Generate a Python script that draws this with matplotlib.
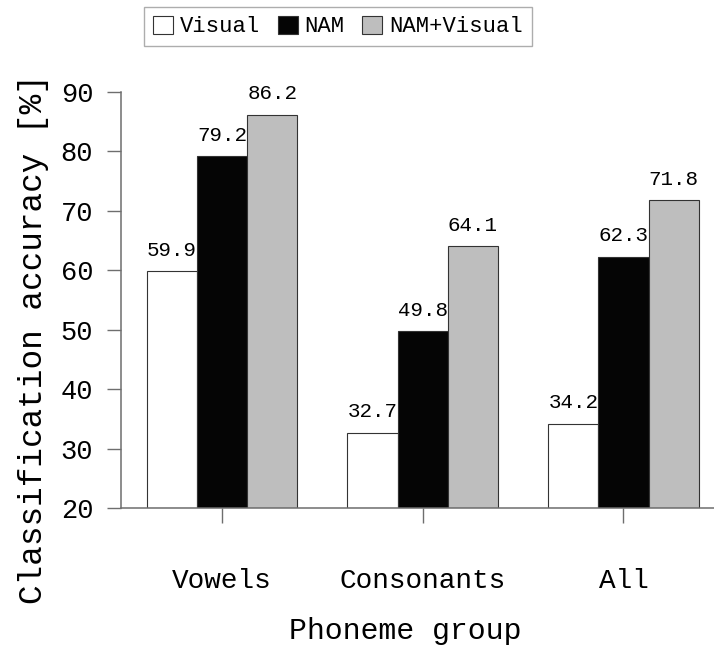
import numpy as np
import matplotlib
matplotlib.use('Agg')
import matplotlib.pyplot as plt

# data
groups = ['Vowels', 'Consonants', 'All']
series = ['Visual', 'NAM', 'NAM+Visual']
visual = [59.9, 32.7, 34.2]
nam = [79.2, 49.8, 62.3]
nam_visual = [86.2, 64.1, 71.8]
colors = ['#ffffff', '#050505', '#bebebe']

plt.rcParams['font.family'] = ['Liberation Mono', 'DejaVu Sans Mono']

fig = plt.figure(figsize=(7.14, 6.5), dpi=100)
ax = fig.add_axes([121 / 714, 142 / 650, 1 - 121 / 714, 416 / 650])

x = np.arange(len(groups))
width = 0.25
axis_grey = '#6e6e6e'

for i, (name, vals) in enumerate(zip(series, [visual, nam, nam_visual])):
    pos = x + (i - 1) * width
    ax.bar(pos, np.array(vals) - 20, width, bottom=20, color=colors[i],
           edgecolor='#333333', linewidth=0.8, label=name, zorder=2)
    for px, v in zip(pos, vals):
        ax.annotate(f'{v:.1f}', (px, v), xytext=(0, 11), textcoords='offset points',
                    ha='center', va='baseline', fontsize=15, zorder=1)

ax.set_xlim(-0.503, 2.451)
ax.set_ylim(20, 90)
ax.set_yticks(range(20, 91, 10))
ax.set_xticks(x)
ax.set_xticklabels(groups, fontsize=20)
ax.tick_params(axis='y', labelsize=19.5, length=10, width=1, color=axis_grey, pad=10)
ax.tick_params(axis='x', length=11, width=1, color=axis_grey, pad=32)

for s in ['top', 'right']:
    ax.spines[s].set_visible(False)
for s in ['left', 'bottom']:
    ax.spines[s].set_color(axis_grey)
    ax.spines[s].set_linewidth(1.1)

ax.set_ylabel('Classification accuracy [%]', fontsize=23.5)
ax.yaxis.set_label_coords(-0.122, 0.405)
ax.set_xlabel('Phoneme group', fontsize=21.5)
ax.xaxis.set_label_coords(0.48, -0.262)

leg = fig.legend(loc='center', bbox_to_anchor=(338 / 714, 1 - 26.5 / 650), ncol=3,
                 fontsize=16, frameon=True, fancybox=False, handlelength=0.9,
                 handleheight=0.9, handletextpad=0.3, columnspacing=0.8,
                 borderpad=0.4)
leg.get_frame().set_edgecolor('#999999')
leg.get_frame().set_linewidth(1)

plt.savefig('out.png', dpi=100)
